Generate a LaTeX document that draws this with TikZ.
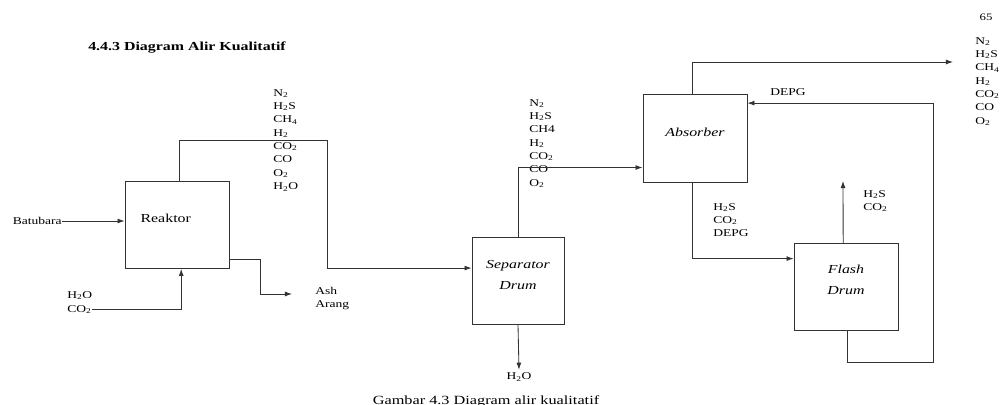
\documentclass[tikz,border=0pt]{standalone}
\usepackage{fontspec}
\setmainfont{Liberation Serif}[FakeStretch=1.3]
\usetikzlibrary{arrows.meta}

\tikzset{
    unit/.style={draw=black!80, line width=0.6pt, minimum width=104*0.025cm, minimum height=87*0.025cm, inner sep=0pt, align=center, font=\fontsize{8.7}{10}\selectfont},
    flow/.style={draw=black!80, line width=0.6pt, -{Latex[length=5pt, width=3.5pt]}},
    pipe/.style={draw=black!80, line width=0.6pt},
    stream/.style={align=left, anchor=north west, inner sep=0pt, font=\fontsize{7.4}{9.5}\selectfont}
}

\begin{document}
\begin{tikzpicture}[x=0.025cm, y=-0.025cm]
    \useasboundingbox (0,0) rectangle (1000,405);
    \clip (0,0) rectangle (1000,405);

    % Heading and page number
    \node[anchor=west, inner sep=0pt, font=\bfseries\fontsize{8.7}{10}\selectfont] (title) at (88,48) {4.4.3 Diagram Alir Kualitatif};
    \node[inner sep=0pt, font=\fontsize{7}{8}\selectfont] (page) at (986,17) {65};

    % Process units
    \node[unit] (reaktor) at (177,225) {\hspace*{-16pt}Reaktor\\[0pt]};
    \node[unit, minimum width=92*0.025cm, font=\itshape\fontsize{8.7}{15}\selectfont] (separator) at (518,281) {Separator\\Drum\\[-6.5pt]};
    \node[unit, minimum height=88*0.025cm, font=\itshape\fontsize{8.7}{10}\selectfont] (absorber) at (695,138) {Absorber\\[-1.3pt]};
    \node[unit, font=\itshape\fontsize{8.7}{15}\selectfont] (flash) at (846,287) {Flash\\Drum\\[-4.6pt]};

    % Feeds into the reactor
    \node[anchor=east, inner sep=0pt, font=\fontsize{7.4}{8}\selectfont] (batubara) at (62,221) {Batubara};
    \draw[flow] (batubara.east) -- (reaktor.west |- batubara.east);
    \node[stream] (steam) at (67,291) {H\textsubscript{2}O};
    \node[stream] (co2in) at (67,305) {CO\textsubscript{2}};
    \draw[flow] (co2in.east) -| ([xshift=3pt]reaktor.south);

    % Ash out of the reactor
    \coordinate (ashin) at (292,294);
    \node[stream] (ash) at (315,287) {Ash\\Arang};
    \draw[flow] ([yshift=6.4pt]reaktor.south east) -| (260,294) -- (ashin);

    % Raw gas to the separator
    \node[stream] (rawgas) at (273,89) {N\textsubscript{2}\\H\textsubscript{2}S\\CH\textsubscript{4}\\H\textsubscript{2}\\CO\textsubscript{2}\\CO\\O\textsubscript{2}\\H\textsubscript{2}O};
    \draw[flow] ([xshift=2pt]reaktor.north) |- (327,140) |- ([yshift=9.2pt]separator.west);

    % Separator to absorber and water out
    \node[stream] (drygas) at (529,99) {N\textsubscript{2}\\H\textsubscript{2}S\\CH4\\H\textsubscript{2}\\CO\textsubscript{2}\\CO\\O\textsubscript{2}};
    \draw[flow] (separator.north) |- ([yshift=-21pt]absorber.west);
    \node[inner sep=0pt, font=\fontsize{7.4}{8}\selectfont] (water) at (519,377) {H\textsubscript{2}O};
    \draw[flow] (separator.south) -- ([yshift=2pt]water.north);

    % Clean gas out of the absorber
    \coordinate (gasout) at (953,62);
    \node[stream] (cleangas) at (975,37) {N\textsubscript{2}\\H\textsubscript{2}S\\CH\textsubscript{4}\\H\textsubscript{2}\\CO\textsubscript{2}\\CO\\O\textsubscript{2}};
    \draw[flow] ([xshift=-1.5pt]absorber.north) |- (gasout);

    % Rich solvent to the flash drum
    \node[stream] (rich) at (713,203) {H\textsubscript{2}S\\CO\textsubscript{2}\\DEPG};
    \draw[flow] ([xshift=-1.5pt]absorber.south) |- ([yshift=20.2pt]flash.west);

    % Acid gas off the flash drum
    \coordinate (ventout) at (843,181);
    \node[stream] (acidgas) at (863,190) {H\textsubscript{2}S\\CO\textsubscript{2}};
    \draw[flow] ([xshift=-2pt]flash.north) -- (ventout);

    % Lean solvent back to the absorber
    \coordinate (loop) at (933,362);
    \node[anchor=west, inner sep=0pt, font=\fontsize{7.4}{8}\selectfont] (depg) at (770,92) {DEPG};
    \draw[flow] ([xshift=1pt]flash.south) |- (loop) |- ([yshift=24.8pt]absorber.east);

    % Caption
    \node[inner sep=0pt, font=\fontsize{8.9}{10}\selectfont] (caption) at (486,401) {Gambar 4.3 Diagram alir kualitatif};
\end{tikzpicture}
\end{document}
